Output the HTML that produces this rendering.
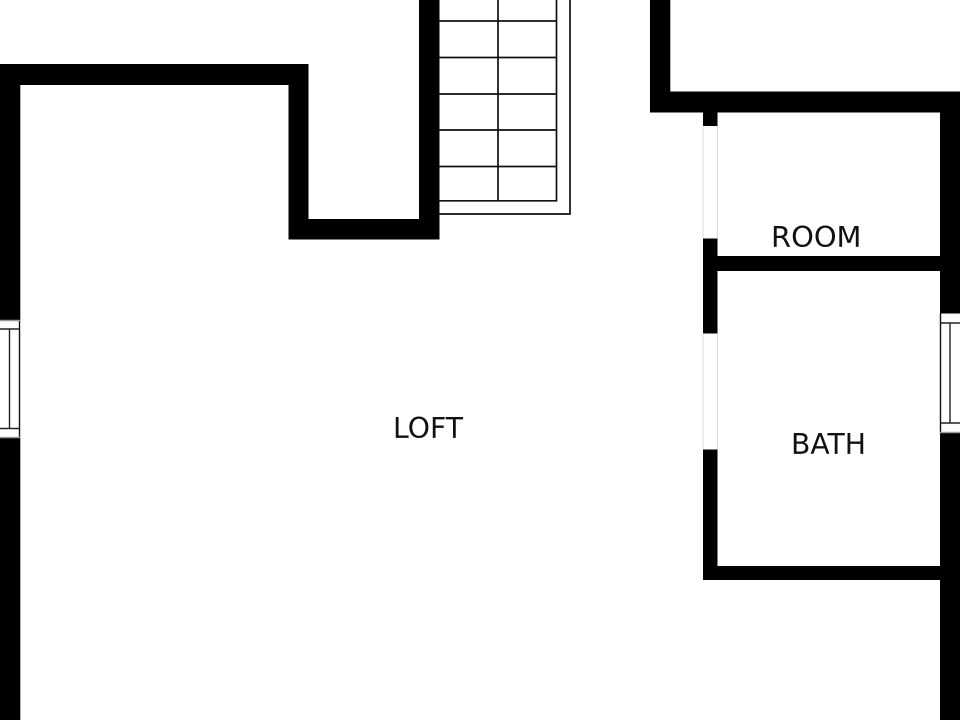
<!DOCTYPE html>
<html><head><meta charset="utf-8"><style>html,body{margin:0;padding:0;background:#fff}svg{display:block}text{font-family:"DejaVu Sans","Liberation Sans",sans-serif;font-size:28.500px;fill:#111}</style></head>
<body><svg width="960" height="720" viewBox="0 0 960 720" xmlns="http://www.w3.org/2000/svg">
<rect width="960" height="720" fill="#fff"/>
<!-- stairs -->
<g stroke="#111" stroke-width="1.700" fill="none">
<path d="M439 21H556.500M439 57.500H556.500M439 94H556.500M439 130H556.500M439 166.500H556.500"/>
<path d="M498 0V201M556.500 0V201"/>
<path d="M439 200.800H557.300"/>
<path d="M570 0V214.800M439 214H570.800"/>
</g>
<!-- walls -->
<g fill="#000">
<rect x="0" y="64" width="308.500" height="21"/>
<rect x="0" y="64" width="20.300" height="256"/>
<rect x="0" y="438" width="20.300" height="282"/>
<rect x="288.500" y="64" width="20" height="175.500"/>
<rect x="288.500" y="219" width="151" height="20.500"/>
<rect x="419" y="0" width="20.500" height="239.500"/>
<rect x="650" y="0" width="20.300" height="112"/>
<rect x="650" y="91.500" width="310" height="21"/>
<rect x="940" y="91.500" width="20" height="222"/>
<rect x="940" y="433" width="20" height="287"/>
<rect x="703" y="112" width="14.500" height="14"/>
<rect x="703" y="238.500" width="14.500" height="95"/>
<rect x="703" y="449.500" width="14.500" height="130.500"/>
<rect x="703" y="256" width="237" height="15"/>
<rect x="703" y="566" width="237" height="14"/>
</g>
<!-- door openings -->
<g stroke="#ddd" stroke-width="1" fill="none">
<path d="M703 126V238.500M717.500 126V238.500M703 334V449.500M717.500 334V449.500"/>
</g>
<!-- left window -->
<g stroke="#222" stroke-width="1.400" fill="none">
<path d="M0 329H20M0 428.500H20M9.500 329V428.500"/>
<path d="M19.500 320V438" stroke="#111"/>
<path d="M0 320.500H20M0 437.500H20" stroke="#999"/>
</g>
<!-- right window -->
<g stroke="#222" stroke-width="1.400" fill="none">
<path d="M940 323H960M940 423H960M950 323V423"/>
<path d="M940.500 313.500V433" stroke="#111"/>
<path d="M940 432.500H960" stroke="#999"/>
</g>
<!-- labels -->
<text x="393" y="438" textLength="70" lengthAdjust="spacingAndGlyphs">LOFT</text>
<text x="771" y="247" textLength="90.500" lengthAdjust="spacingAndGlyphs">ROOM</text>
<text x="791" y="454" textLength="75" lengthAdjust="spacingAndGlyphs">BATH</text>
</svg></body></html>
